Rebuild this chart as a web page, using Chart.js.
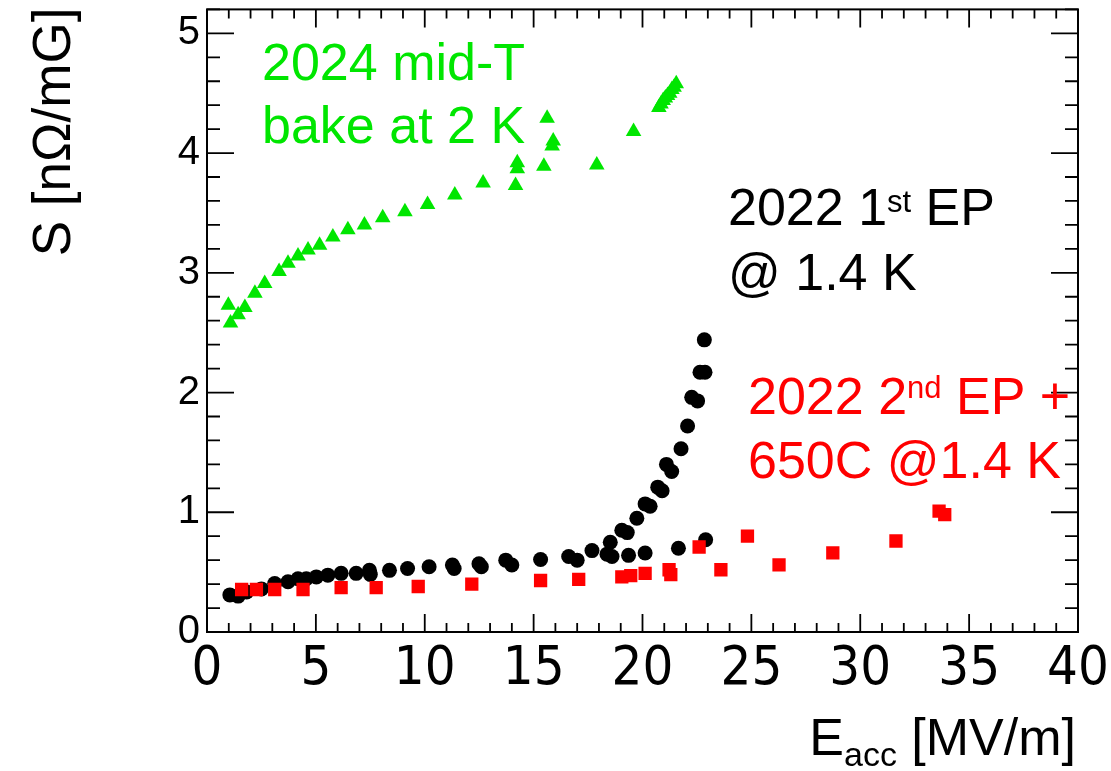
<!DOCTYPE html>
<html>
<head>
<meta charset="utf-8">
<script src="https://cdn.jsdelivr.net/npm/chart.js@4"></script>
<style>
    body { margin: 0; background: #fff; }
    #chart { display: block; }
</style>
</head>
<body>
<canvas id="chart" width="1111" height="771"></canvas>
<script>
// 2024 mid-T bake at 2 K
var midTX = [0.98, 1.08, 1.43, 1.74, 2.2, 2.65, 3.31, 3.72, 4.18, 4.64, 5.17, 5.78, 6.47, 7.23, 8.07, 9.09,
    10.13, 11.38, 12.68, 14.17, 14.25, 14.25, 15.47, 15.62, 15.85, 15.9, 17.9, 19.59,
    20.75, 20.85, 20.95, 21.05, 21.15, 21.25, 21.35, 21.45, 21.55];
var midTY = [2.73, 2.58, 2.65, 2.71, 2.83, 2.91, 3.01, 3.08, 3.14, 3.19, 3.23, 3.30, 3.36, 3.40, 3.46, 3.51,
    3.57, 3.65, 3.75, 3.73, 3.87, 3.92, 3.89, 4.29, 4.06, 4.10, 3.90, 4.18,
    4.38, 4.41, 4.44, 4.46, 4.48, 4.50, 4.53, 4.55, 4.58];

// 2022 1st EP @ 1.4 K
var ep1X = [1.05, 1.43, 1.82, 2.5, 3.11, 3.72, 4.18, 4.56, 5.02, 5.55, 6.16, 6.85, 7.46, 7.5, 8.38, 9.21,
    10.2, 11.27, 11.35, 12.49, 12.6, 13.72, 14.0, 15.32, 16.61, 17.0, 17.68, 18.37, 18.6, 18.52,
    19.05, 19.3, 19.36, 19.74, 20.12, 20.35, 20.12, 20.7, 20.9, 21.1, 21.34, 21.65, 21.77, 22.07,
    22.26, 22.53, 22.64, 22.87, 22.84, 22.9];
var ep1Y = [0.31, 0.30, 0.335, 0.36, 0.405, 0.42, 0.445, 0.445, 0.46, 0.475, 0.49, 0.49, 0.515, 0.48, 0.515, 0.53,
    0.545, 0.56, 0.53, 0.57, 0.545, 0.6, 0.56, 0.605, 0.63, 0.6, 0.68, 0.65, 0.63, 0.75,
    0.85, 0.83, 0.64, 0.95, 1.07, 1.05, 0.66, 1.21, 1.18, 1.40, 1.34, 0.70, 1.53, 1.72,
    1.96, 1.93, 2.17, 2.17, 2.44, 0.77];

// 2022 2nd EP + 650C @1.4 K
var ep2X = [1.59, 2.27, 3.11, 4.41, 6.16, 7.77, 9.7, 12.16, 15.32, 17.07, 19.05, 19.46, 20.12, 21.22, 21.3,
    22.6, 23.6, 24.82, 26.27, 28.74, 31.64, 33.62, 33.88];
var ep2Y = [0.355, 0.355, 0.355, 0.355, 0.37, 0.37, 0.38, 0.40, 0.43, 0.44, 0.46, 0.47, 0.49, 0.52, 0.48,
    0.71, 0.52, 0.80, 0.56, 0.66, 0.76, 1.01, 0.98];

var xTicks = [0, 5, 10, 15, 20, 25, 30, 35, 40];
var yTicks = [0, 1, 2, 3, 4, 5];

var GREEN = '#00e600';
var RED = '#ff0000';
var FONT = "'Liberation Sans', Arial, sans-serif";

function toPoints(xs, ys) {
    return xs.map(function(x, i) {
        return { x: x, y: ys[i] };
    });
}

// ROOT style frame with inward ticks, titles and text labels
var rootFrame = {
    id: 'rootFrame',
    afterDraw: function(chart) {
        var ctx = chart.ctx;
        var a = chart.chartArea;
        var xs = chart.scales.x;
        var ys = chart.scales.y;
        ctx.save();
        ctx.strokeStyle = '#000';
        ctx.lineWidth = 2;
        ctx.strokeRect(a.left, a.top, a.right - a.left, a.bottom - a.top);

        ctx.lineWidth = 1.8;
        ctx.beginPath();
        for (var v = 0; v <= 40; v++) {
            var px = xs.getPixelForValue(v);
            var len = v % 5 === 0 ? 18 : 9;
            ctx.moveTo(px, a.bottom);
            ctx.lineTo(px, a.bottom - len);
            ctx.moveTo(px, a.top);
            ctx.lineTo(px, a.top + len);
        }
        for (var k = 0; k <= 26; k++) {
            var py = ys.getPixelForValue(k * 0.2);
            var l2 = k % 5 === 0 ? 27 : 13;
            ctx.moveTo(a.left, py);
            ctx.lineTo(a.left + l2, py);
            ctx.moveTo(a.right, py);
            ctx.lineTo(a.right - l2, py);
        }
        ctx.stroke();

        // y title
        ctx.fillStyle = '#000';
        ctx.save();
        ctx.translate(70, 132);
        ctx.rotate(-Math.PI / 2);
        ctx.font = '53px ' + FONT;
        ctx.textAlign = 'center';
        ctx.textBaseline = 'alphabetic';
        ctx.fillText('S [nΩ/mG]', 0, 0);
        ctx.restore();

        // x title with subscript
        ctx.textAlign = 'left';
        ctx.textBaseline = 'alphabetic';
        var big = '52px ' + FONT;
        var small = '34px ' + FONT;
        ctx.font = big;
        var wE = ctx.measureText('E').width;
        var wRest = ctx.measureText(' [MV/m]').width;
        ctx.font = small;
        var wSub = ctx.measureText('acc').width;
        var x0 = 1076 - wE - wSub - wRest;
        ctx.font = big;
        ctx.fillText('E', x0, 755);
        ctx.font = small;
        ctx.fillText('acc', x0 + wE, 766);
        ctx.font = big;
        ctx.fillText(' [MV/m]', x0 + wE + wSub, 755);

        // series labels
        drawLine(ctx, [['2024 mid-T', 0]], 262, 80, GREEN);
        drawLine(ctx, [['bake at 2 K', 0]], 262, 143, GREEN);
        drawLine(ctx, [['2022 1', 0], ['st', 13], [' EP', 0]], 728, 225, '#000');
        drawLine(ctx, [['@ 1.4 K', 0]], 728, 290, '#000');
        drawLine(ctx, [['2022 2', 0], ['nd', 16], [' EP +', 0]], 748, 414, RED);
        drawLine(ctx, [['650C @1.4 K', 0]], 748, 478, RED);
        ctx.restore();
    },
};

function drawLine(ctx, parts, x, y, color) {
    ctx.fillStyle = color;
    ctx.textAlign = 'left';
    ctx.textBaseline = 'alphabetic';
    parts.forEach(function(p) {
        ctx.font = (p[1] ? '31px ' : '52px ') + FONT;
        ctx.fillText(p[0], x, y - p[1]);
        x += ctx.measureText(p[0]).width;
    });
}

var chart = new Chart(document.getElementById('chart'), {
    type: 'scatter',
    data: {
        datasets: [
            {
                label: '2024 mid-T bake at 2 K',
                data: toPoints(midTX, midTY),
                pointStyle: 'triangle',
                pointRadius: 9,
                backgroundColor: GREEN,
                borderColor: GREEN,
                borderWidth: 0,
            },
            {
                label: '2022 2nd EP + 650C @1.4 K',
                data: toPoints(ep2X, ep2Y),
                pointStyle: 'rect',
                pointRadius: 9.4,
                backgroundColor: RED,
                borderColor: RED,
                borderWidth: 0,
            },
            {
                label: '2022 1st EP @ 1.4 K',
                data: toPoints(ep1X, ep1Y),
                pointStyle: 'circle',
                pointRadius: 7.5,
                backgroundColor: '#000',
                borderColor: '#000',
                borderWidth: 0,
            },
        ],
    },
    options: {
        responsive: false,
        animation: false,
        layout: { padding: { top: 6, right: 33, left: 0, bottom: 0 } },
        plugins: { legend: { display: false }, tooltip: { enabled: false } },
        scales: {
            x: {
                type: 'linear',
                min: 0,
                max: 40,
                afterBuildTicks: function(s) {
                    s.ticks = xTicks.map(function(v) { return { value: v }; });
                },
                afterFit: function(s) {
                    s.height = 139;
                    s.paddingLeft = 0;
                    s.paddingRight = 0;
                },
                ticks: {
                    color: '#000',
                    padding: 6,
                    maxRotation: 0,
                    autoSkip: false,
                    font: { family: "'Liberation Sans Narrow', 'DejaVu Sans Condensed', " + FONT, size: 54 },
                },
                grid: { display: false, drawTicks: false },
                border: { display: false },
            },
            y: {
                min: 0,
                max: 5.2,
                afterBuildTicks: function(s) {
                    s.ticks = yTicks.map(function(v) { return { value: v }; });
                },
                afterFit: function(s) {
                    s.width = 207;
                    s.paddingTop = 0;
                    s.paddingBottom = 0;
                },
                ticks: {
                    color: '#000',
                    padding: 7,
                    autoSkip: false,
                    font: { family: FONT, size: 40 },
                },
                grid: { display: false, drawTicks: false },
                border: { display: false },
            },
        },
    },
    plugins: [rootFrame],
});
</script>
</body>
</html>
